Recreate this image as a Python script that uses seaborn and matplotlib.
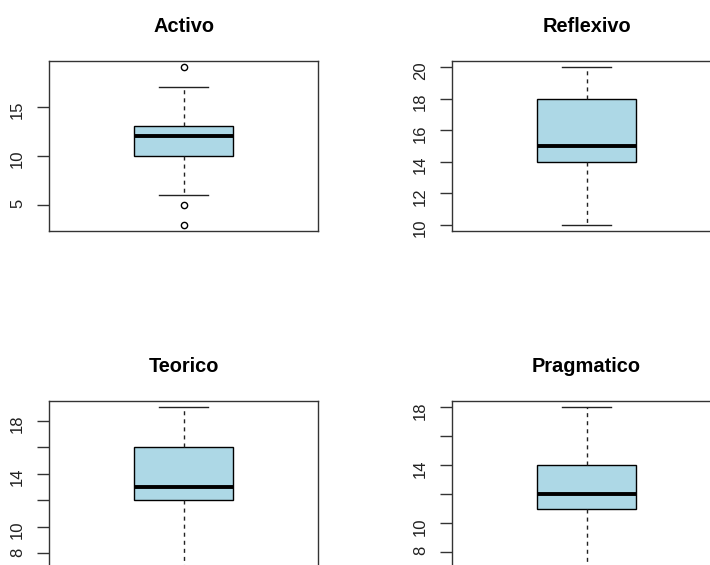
import matplotlib
matplotlib.use("Agg")
import matplotlib.pyplot as plt
import seaborn as sns
import pandas as pd

plt.rcParams["font.family"] = ["Liberation Sans", "DejaVu Sans"]

# Learning-style scores per dimension
activo = [3, 5, 6, 10, 10, 10, 11, 12, 12, 12, 13, 13, 13, 17, 19]
reflexivo = [10, 14, 14, 14, 15, 15, 16, 18, 18, 18, 20]
teorico = [7, 12, 12, 12, 13, 13, 14, 16, 16, 16, 19]
pragmatico = [7, 11, 11, 11, 12, 12, 13, 14, 14, 14, 18]

titles = ["Activo", "Reflexivo", "Teorico", "Pragmatico"]
series = [activo, reflexivo, teorico, pragmatico]

yticks = [
    [5, 10, 15],
    [10, 12, 14, 16, 18, 20],
    [8, 10, 12, 14, 16, 18],
    [8, 10, 12, 14, 16, 18],
]
yticklabels = [
    ["5", "10", "15"],
    ["10", "12", "14", "16", "18", "20"],
    ["8", "10", "", "14", "", "18"],
    ["8", "10", "", "14", "", "18"],
]

W, H = 710, 565
fig = plt.figure(figsize=(W / 100, H / 100), dpi=100)

# panel rectangles in pixels: left, top, width, height
rects = [(49, 61, 269, 170), (452, 61, 269, 170),
         (49, 401, 269, 172), (452, 401, 269, 172)]

frame_col = "#333333"
for title, vals, rect, tk, tkl in zip(titles, series, rects, yticks, yticklabels):
    l, t, w, h = rect
    ax = fig.add_axes([l / W, (H - t - h) / H, w / W, h / H])
    df = pd.DataFrame({"valor": vals})
    sns.boxplot(
        data=df, y="valor", ax=ax, width=0.4, color="#ADD8E6", saturation=1,
        linecolor="black", linewidth=1.0, fliersize=4.5,
        whiskerprops={"linestyle": (0, (2.9, 2.9)), "color": "#222222"},
        capprops={"color": "#222222"},
        medianprops={"linewidth": 2.8, "color": "black"},
        flierprops={"marker": "o", "markerfacecolor": "none",
                    "markeredgecolor": "black", "markeredgewidth": 1.0},
    )
    lo, hi = min(vals), max(vals)
    pad = 0.04 * (hi - lo)
    ax.set_ylim(lo - pad, hi + pad)
    ax.set_xlim(-0.54, 0.54)
    ax.set_xticks([])
    ax.set_xlabel("")
    ax.set_ylabel("")
    ax.set_yticks(tk)
    ax.set_yticklabels(tkl)
    ax.tick_params(axis="y", labelrotation=90, length=8.6, width=1.0,
                   pad=8.6, labelsize=12, color=frame_col, labelcolor="#222222")
    for sp in ax.spines.values():
        sp.set_color(frame_col)
        sp.set_linewidth(1.0)
    ax.set_title(title, fontsize=14.4, fontweight="bold", pad=21)

fig.savefig("out.png", dpi=100)
